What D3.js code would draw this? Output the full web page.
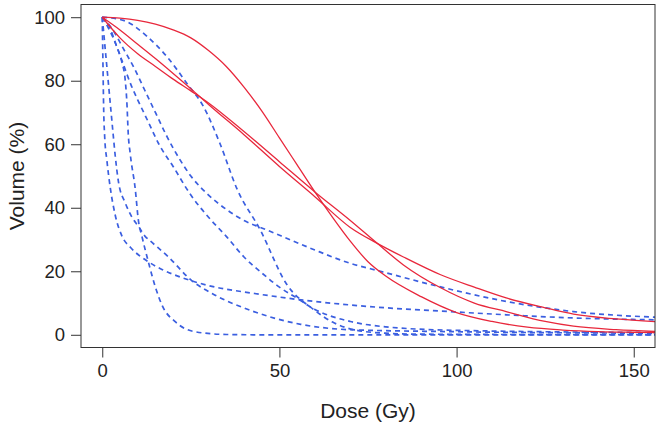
<!DOCTYPE html>
<html><head><meta charset="utf-8">
<script src="https://cdn.jsdelivr.net/npm/d3@7"></script>
<style>body{margin:0;background:#fff}svg{display:block}text{font-family:"Liberation Sans",Arial,Helvetica,sans-serif;fill:#222}</style>
</head><body>
<script>
// x ticks and y ticks
const xTicks = [0, 50, 100, 150];
const yTicks = [0, 20, 40, 60, 80, 100];

// Red solid curves (dose Gy, volume %)
const red1Dose = [0, 5, 10, 15, 20, 25, 30, 35, 40, 45, 50, 55, 60, 65, 70, 75, 80, 90, 100, 110, 120, 130, 140, 150, 157];
const red1Vol  = [100, 99.7, 99, 97.8, 96, 93.5, 89.5, 84.5, 78, 70.5, 62, 53.5, 45, 37, 29.5, 23, 18.5, 12, 7, 4.2, 2.4, 1.5, 1.0, 0.8, 0.7];
const red2Dose = [0, 5, 10, 15, 20, 25, 30, 40, 50, 60, 70, 77.6, 85, 95.5, 105, 114, 125, 133, 145, 157];
const red2Vol  = [100, 96, 91.5, 87, 82.3, 77.5, 72.5, 63, 53, 43.5, 33.8, 28.8, 24.5, 18.9, 15, 11.6, 8.5, 6.5, 5, 4.1];
const red3Dose = [0, 5, 10, 15, 20, 25, 30, 40, 50, 60, 70, 77.6, 85, 95.5, 105, 114, 125, 133, 145, 157];
const red3Vol  = [100, 93.5, 88.5, 84.5, 80.5, 76.8, 73, 64, 54.5, 45, 36, 28.8, 22, 14.8, 10, 7.3, 4.2, 2.7, 1.6, 1.0];

// Blue dashed curves
const blue1Dose = [0, 0.2, 0.4, 0.7, 1.3, 2.3, 3.7, 5.6, 8, 13, 17, 22.5, 30, 43, 60, 80, 98, 114, 133, 157];
const blue1Vol  = [100, 85, 71, 62, 55, 46, 37.5, 31, 27.5, 23, 20.5, 18, 15.5, 13, 10.5, 8.5, 7.3, 6.3, 5.3, 4.7];
const blue2Dose = [0, 0.5, 1, 1.5, 2, 2.5, 3, 3.6, 4.6, 6.5, 8.4, 10.3, 12.1, 13.6, 18.6, 25.3, 31, 42.3, 56, 70, 98, 157];
const blue2Vol  = [100, 94, 88, 82, 76, 70, 64, 57, 48, 41.5, 37, 34, 31, 29.5, 24.6, 17, 13, 7.5, 3.3, 1.6, 1.0, 0.5];
const blue3Dose = [0, 2, 4, 5.5, 6.5, 7, 7.3, 7.9, 9.3, 10.2, 11.2, 13, 15, 17, 20.5, 26, 35, 45, 157];
const blue3Vol  = [100, 96, 91, 86, 80, 72, 64, 57, 46, 36, 31, 23, 15, 9, 4.2, 1, 0.1, 0, 0];
const blue4Dose = [0, 2, 4, 6, 8, 10, 13, 16, 20, 25, 30, 35, 40, 45, 50, 55, 60, 70, 80, 100, 157];
const blue4Vol  = [100, 97, 91, 85, 79, 74, 67, 60, 53, 44, 37, 31, 24.5, 19.5, 15, 11.5, 8, 4.2, 2.5, 1.4, 0.7];
const blue5Dose = [0, 3, 6, 9, 12, 15, 18, 22, 25, 30, 35, 40, 46.5, 55, 60, 70, 78.5, 95, 114, 133, 157];
const blue5Vol  = [100, 96, 90, 84, 77, 70, 63, 55, 50, 44, 39.5, 36, 33, 29, 26.7, 22.5, 20, 15.2, 10.5, 7.3, 5.5];
const blue6Dose = [0, 6, 12.6, 18.3, 24, 28.5, 33.3, 38, 44.6, 52, 59.6, 65, 71, 80, 90, 157];
const blue6Vol  = [100, 99, 94, 87.5, 79, 72, 60, 46, 33, 16, 8, 4, 1.6, 0.5, 0.2, 0];

const redCurves = [[red1Dose, red1Vol], [red2Dose, red2Vol], [red3Dose, red3Vol]];
const blueCurves = [[blue1Dose, blue1Vol], [blue2Dose, blue2Vol], [blue3Dose, blue3Vol],
                    [blue4Dose, blue4Vol], [blue5Dose, blue5Vol], [blue6Dose, blue6Vol]];

const W = 658, H = 427;
const mLeft = 81, mRight = 655, mTop = 4.5, mBottom = 347.5;

const svg = d3.select("body").append("svg").attr("width", W).attr("height", H);
const x = d3.scaleLinear().domain([-6, 156]).range([mLeft, mRight]);
const y = d3.scaleLinear().domain([-4, 104]).range([mBottom, mTop]);

svg.append("defs").append("clipPath").attr("id", "clip")
  .append("rect").attr("x", mLeft).attr("y", mTop).attr("width", mRight - mLeft).attr("height", mBottom - mTop);

const line = d3.line().x(d => x(d[0])).y(d => y(d[1])).curve(d3.curveMonotoneX);
const toPts = c => c[0].map((d, i) => [d, c[1][i]]);

const g = svg.append("g").attr("clip-path", "url(#clip)");
blueCurves.forEach(c => {
  g.append("path").datum(toPts(c)).attr("d", line)
    .attr("fill", "none").attr("stroke", "#3b5fe0").attr("stroke-width", 1.7)
    .attr("stroke-dasharray", "5,4");
});
redCurves.forEach(c => {
  g.append("path").datum(toPts(c)).attr("d", line)
    .attr("fill", "none").attr("stroke", "#e8283c").attr("stroke-width", 1.3);
});

// box
svg.append("rect").attr("x", mLeft).attr("y", mTop).attr("width", mRight - mLeft).attr("height", mBottom - mTop)
  .attr("fill", "none").attr("stroke", "#333").attr("stroke-width", 1);

// axes
const xAxis = d3.axisBottom(x).tickValues(xTicks).tickSize(10).tickPadding(6).tickFormat(d3.format("d"));
const yAxis = d3.axisLeft(y).tickValues(yTicks).tickSize(10).tickPadding(6).tickFormat(d3.format("d"));
const gx = svg.append("g").attr("transform", `translate(0,${mBottom})`).call(xAxis);
const gy = svg.append("g").attr("transform", `translate(${mLeft},0)`).call(yAxis);
[gx, gy].forEach(a => {
  a.select(".domain").remove();
  a.selectAll(".tick line").attr("stroke", "#333");
  a.selectAll(".tick text").attr("font-size", 18.5).attr("fill", "#222")
    .attr("font-family", "Liberation Sans, Arial, sans-serif");
});

svg.append("text").attr("x", (mLeft + mRight) / 2).attr("y", 418)
  .attr("text-anchor", "middle").attr("font-size", 21).text("Dose (Gy)");
svg.append("text").attr("transform", `translate(24,${(mTop + mBottom) / 2}) rotate(-90)`)
  .attr("text-anchor", "middle").attr("font-size", 21).text("Volume (%)");
</script>
</body></html>
